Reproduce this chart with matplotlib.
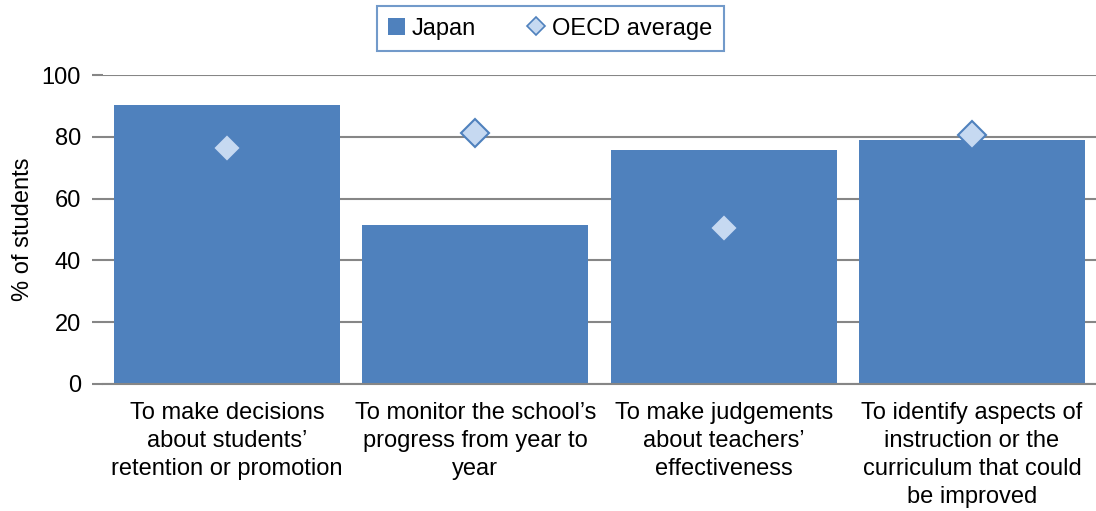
import matplotlib.pyplot as plt
import numpy as np
from matplotlib.lines import Line2D
from matplotlib.patches import Patch

plt.rcParams['font.family'] = ['Liberation Sans', 'DejaVu Sans']

categories = [
    "To make decisions\nabout students’\nretention or promotion",
    "To monitor the school’s\nprogress from year to\nyear",
    "To make judgements\nabout teachers’\neffectiveness",
    "To identify aspects of\ninstruction or the\ncurriculum that could\nbe improved",
]
japan = [90.3, 51.5, 75.7, 79.0]
oecd = [76.5, 81.3, 50.5, 80.6]
yticks = [0, 20, 40, 60, 80, 100]

bar_color = '#4f81bd'
diamond_fill = '#c6d9f1'
grid_color = '#868686'
fs = 17

fig = plt.figure(figsize=(10.96, 5.11), dpi=100)
ax = fig.add_axes([0.094, 0.249, 0.906, 0.604])

x = np.arange(len(categories))
ax.bar(x, japan, width=0.91, color=bar_color, zorder=2)
ax.plot(x, oecd, linestyle='none', marker='D', markersize=14,
        markerfacecolor=diamond_fill, markeredgecolor=bar_color,
        markeredgewidth=1.5, zorder=3)

ax.set_xlim(-0.5, len(categories) - 0.5)
ax.set_ylim(0, 100)
ax.set_yticks(yticks)
ax.tick_params(axis='y', labelsize=fs, length=8, color=grid_color, width=1.5, pad=8)
ax.tick_params(axis='x', labelsize=fs, length=0, pad=13)
ax.set_xticks(x)
ax.set_xticklabels(categories, linespacing=1.36)
ax.yaxis.grid(True, color=grid_color, linewidth=1.5, zorder=0)
ax.set_axisbelow(True)
for s in ['top', 'right', 'left']:
    ax.spines[s].set_visible(False)
ax.spines['bottom'].set_color(grid_color)
ax.spines['bottom'].set_linewidth(1.5)
ax.set_ylabel('% of students', fontsize=fs, labelpad=5.5)

handles = [
    Patch(facecolor=bar_color, edgecolor='none'),
    Line2D([], [], linestyle='none', marker='D', markersize=9,
           markerfacecolor=diamond_fill, markeredgecolor=bar_color,
           markeredgewidth=1.2),
]
leg = fig.legend(handles, ['Japan', 'OECD average'], loc='center',
                 bbox_to_anchor=(0.502, 0.944), ncol=2, fontsize=fs,
                 frameon=True, fancybox=False, handlelength=0.7,
                 handleheight=0.7, handletextpad=0.3, columnspacing=2.2,
                 borderpad=0.5)
leg.get_frame().set_edgecolor(bar_color)
leg.get_frame().set_linewidth(1.5)

fig.savefig('out.png', dpi=100)
